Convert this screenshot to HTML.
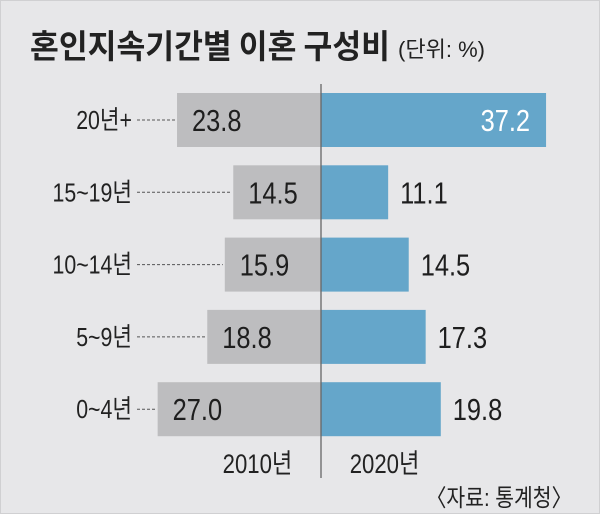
<!DOCTYPE html>
<html><head><meta charset="utf-8"><style>
body{margin:0;background:#fff}
#wrap{position:relative;width:600px;height:514px;background:#e7e7e9;overflow:hidden;font-family:"Liberation Sans","Noto Sans CJK KR",sans-serif;}
</style></head><body>
<div id="wrap">
<svg id="chart" width="600" height="514">
<rect x="0.5" y="0.5" width="599" height="513" fill="none" stroke="#d0d0d2"/>
<text x="30" y="58" font-size="33" font-weight="bold" fill="#222" textLength="360" lengthAdjust="spacingAndGlyphs" font-family="'Noto Sans CJK KR',sans-serif">혼인지속기간별 이혼 구성비</text>
<text x="398" y="57" font-size="22" fill="#222" textLength="87" lengthAdjust="spacingAndGlyphs">(단위: %)</text>
</svg>
</div>
<script>
const categories=["20년+","15~19년","10~14년","5~9년","0~4년"];
const values2010=[23.8,14.5,15.9,18.8,27.0];
const values2020=[37.2,11.1,14.5,17.3,19.8];
const seriesNames=["2010년","2020년"];
const svg=document.getElementById('chart');
const NS='http://www.w3.org/2000/svg';
const cx=321, unit=6.05, top0=120, step=72.3, bh=54;
const xL=v=>cx-v*unit, xR=v=>cx+v*unit, yC=i=>top0+i*step;
function mk(tag,attrs){const e=document.createElementNS(NS,tag);for(const k in attrs)e.setAttribute(k,attrs[k]);svg.appendChild(e);return e;}
function squeeze(t,r){const w=t.getComputedTextLength();t.setAttribute('textLength',w*r);t.setAttribute('lengthAdjust','spacingAndGlyphs');}
categories.forEach((c,i)=>{
 const y=yC(i);
 const l=mk('rect',{x:xL(values2010[i]),y:y-bh/2,width:values2010[i]*unit,height:bh,fill:'#bdbdbf'});
 
 
 const r=mk('rect',{x:cx,y:y-bh/2,width:values2020[i]*unit,height:bh,fill:'#65a6ca'});
 
 
 const d=mk('line',{x1:137,x2:xL(values2010[i])-2,y1:y,y2:y,stroke:'#555','stroke-dasharray':'3,2','stroke-width':1});
 
 
 const t=mk('text',{x:132,y:y+9,'font-size':26,'text-anchor':'end',fill:'#222'});
 t.textContent=c;
 
 
 squeeze(t,0.82);
 const v1=mk('text',{x:xL(values2010[i])+15,y:y+11,'font-size':31,fill:'#1e1e1e'});
 v1.textContent=values2010[i].toFixed(1);
 
 
 squeeze(v1,0.82);
 const inside=values2020[i]>30;
 const v2=mk('text',{x:inside?xR(values2020[i])-16:xR(values2020[i])+12,y:y+11,'font-size':31,fill:inside?'#fff':'#1e1e1e','text-anchor':inside?'end':'start'});
 v2.textContent=values2020[i].toFixed(1);
 
 
 squeeze(v2,0.82);
});
const ax=mk('line',{x1:cx,x2:cx,y1:84,y2:478,stroke:'#666','stroke-width':1.3});


[[xL(10.5),seriesNames[0]],[xR(10.5),seriesNames[1]]].forEach(([x,s],k)=>{
 const t=mk('text',{x:x,y:473,'font-size':27,'text-anchor':'middle',fill:'#222'});
 t.textContent=s;
 
 
 squeeze(t,0.82);
});
const src=mk('text',{x:572,y:506,'font-size':24,'text-anchor':'end',fill:'#222'});
src.textContent='〈자료: 통계청〉';


squeeze(src,0.85);
</script>
</body></html>
